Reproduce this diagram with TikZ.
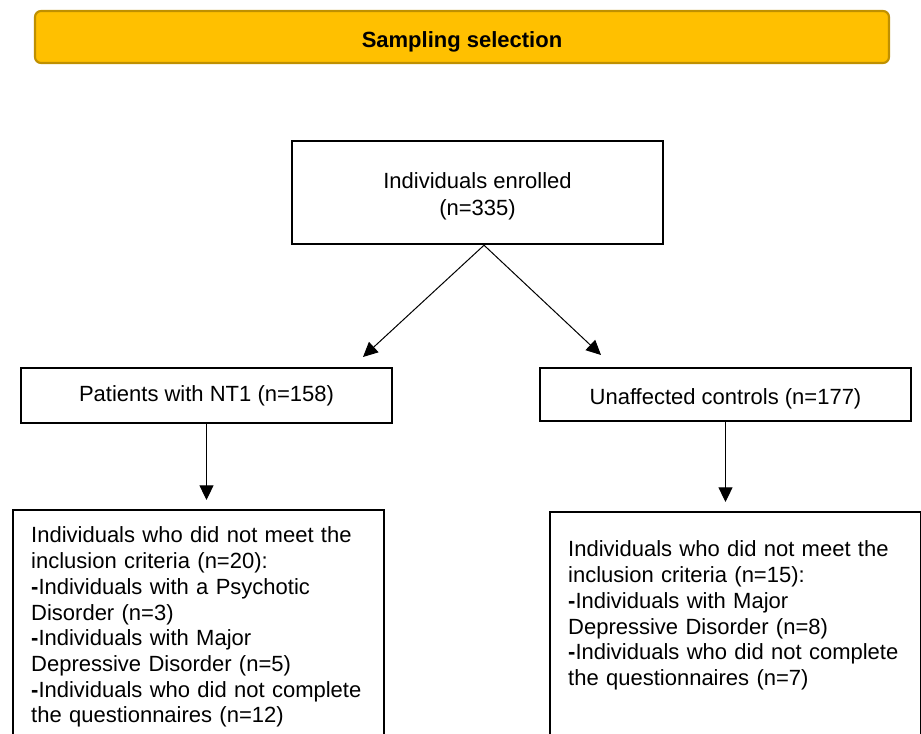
\documentclass[tikz,border=0pt]{standalone}
\usepackage{fontspec}
\setmainfont{Liberation Sans}
\usepackage{tikz}
\usetikzlibrary{arrows.meta, positioning}
\definecolor{bannergold}{HTML}{FFC000}
\definecolor{bannerrim}{HTML}{BF9000}

\begin{document}
\begin{tikzpicture}[
            x=0.75pt, y=-0.75pt,
            line width=0.75pt,
            >={Triangle[length=11pt, width=10.5pt]},
            font=\fontsize{16.5pt}{19.3pt}\selectfont,
            titlebox/.style={rectangle, rounded corners=4.5pt, draw=bannerrim, line width=1.6pt, fill=bannergold, minimum width=640.5pt, minimum height=39pt, text height=16pt, text depth=0pt, font=\fontsize{16.5pt}{19.3pt}\selectfont\bfseries},
            squarenode/.style={rectangle, draw=black, line width=1.8pt, minimum width=278.25pt, align=center},
            listnode/.style={rectangle, draw=black, line width=1.8pt, text width=251.25pt, inner xsep=13.5pt, align=left, anchor=north west, text depth=190pt},
            ]
            \useasboundingbox (0,0) rectangle (921,733);

            \node[titlebox]                          (title)    at (462,37)      {Sampling selection};
            \node[squarenode, minimum height=77.25pt, text height=34.8pt, text depth=0pt] (enrolled) at (477.5,192.5) {Individuals enrolled\\[1pt](n=335)};
            \node[squarenode, minimum height=41.25pt] (nt1)      at (206.5,395.5) {Patients with NT1 (n=158)};
            \node[squarenode, minimum height=39.75pt, text height=14.5pt, text depth=0pt] (ctrl) at (725.5,394.5) {Unaffected controls (n=177)};

            % exclusion boxes run off the bottom edge
            \node[listnode, inner ysep=12.5pt] (nt1out) at (12,509) {Individuals who did not meet the\\
                inclusion criteria (n=20):\\
                \textbf{-}Individuals with a Psychotic\\
                Disorder (n=3)\\
                \textbf{-}Individuals with Major\\
                Depressive Disorder (n=5)\\
                \textbf{-}Individuals who did not complete\\
                the questionnaires (n=12)};
            \node[listnode, inner ysep=21.5pt] (ctrlout) at (549,511) {Individuals who did not meet the\\
                inclusion criteria (n=15):\\
                \textbf{-}Individuals with Major\\
                Depressive Disorder (n=8)\\
                \textbf{-}Individuals who did not complete\\
                the questionnaires (n=7)};

            \coordinate (ltip) at (363,357);
            \coordinate (rtip) at (601,355);

            \draw[->] ([xshift=4.9pt]enrolled.south) -- (ltip);
            \draw[->] ([xshift=4.9pt]enrolled.south) -- (rtip);
            \draw[->] (nt1.south) -- ([yshift=6.75pt]nt1.south |- nt1out.north);
            \draw[->] (ctrl.south) -- ([yshift=6.75pt]ctrl.south |- ctrlout.north);
        \end{tikzpicture}
\end{document}
